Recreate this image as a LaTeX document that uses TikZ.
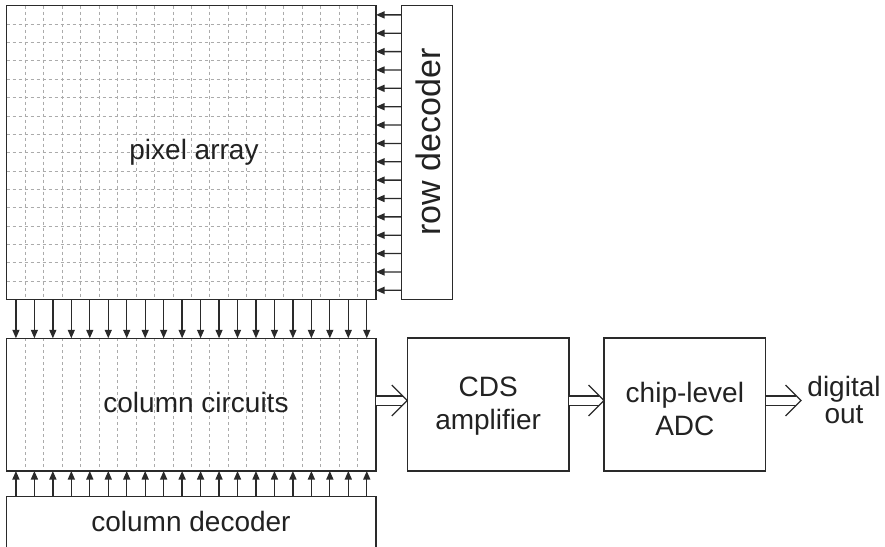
\documentclass[tikz,border=0pt]{standalone}
\usepackage{fontspec}
\setmainfont{Liberation Sans}
\usetikzlibrary{arrows.meta,calc}
\definecolor{edge}{HTML}{2A2A2A}
\definecolor{ink}{HTML}{222222}
\definecolor{gridc}{HTML}{ABABAB}
\begin{document}
\begin{tikzpicture}[x=1pt,y=-1pt,
  box/.style={draw=edge,line width=1.5pt,inner sep=0pt,outer sep=0pt,rectangle},
  area/.style={inner sep=0pt,outer sep=0pt,rectangle},
  lbl/.style={text=ink,font=\fontsize{28}{33}\selectfont,align=center,inner sep=0pt},
  gridline/.style={draw=gridc,line width=0.75pt,dash pattern=on 3pt off 3pt},
  sig/.style={draw=edge,line width=1.3pt,-{Triangle[length=8.5pt,width=7pt]}},
  dblline/.style={draw=edge,line width=1.2pt,double=white,double distance=8pt,shorten >=4.8pt},
  chev/.style={draw=edge,line width=1.2pt,line join=miter}]
\useasboundingbox (0,0) rectangle (885,546);
\def\cw{18.465}
\def\ch{18.3625}
% areas (borders drawn after the grid)
\node[area,minimum width=369.3pt,minimum height=293.8pt] (pa) at (191.35,152.6) {};
\node[area,minimum width=369.3pt,minimum height=132.7pt] (cc) at (191.35,404.65) {};
% boxes
\node[box,minimum width=50.6pt,minimum height=293.6pt] (rd) at (427,152.5) {};
\node[box,minimum width=369.3pt,minimum height=80pt] (cd) at (191.35,536.7) {};
\node[box,minimum width=161.7pt,minimum height=133pt] (cds) at (488.15,404.5) {};
\node[box,minimum width=161.7pt,minimum height=133pt] (adc) at (684.85,404.5) {};
% grid in pixel array and column circuits
\foreach \i in {1,...,19}{
  \draw[gridline] ($(pa.north west)+(\i*\cw,0)$) -- ($(pa.south west)+(\i*\cw,0)$);
  \draw[gridline] ($(cc.north west)+(\i*\cw,0)$) -- ($(cc.south west)+(\i*\cw,0)$);
}
\foreach \j in {1,...,15}{
  \draw[gridline] ($(pa.north west)+(0,\j*\ch)$) -- ($(pa.north east)+(0,\j*\ch)$);
}
\draw[box] (pa.north west) rectangle (pa.south east);
\draw[box] (cc.north west) rectangle (cc.south east);
% labels
\node[lbl] (pal) at (194,152) {pixel array};
\node[lbl,rotate=90,font=\fontsize{34}{40}\selectfont] (rdl) at (428,142) {row decoder};
\node[lbl] (ccl) at (196,402) {column circuits};
\node[lbl] (cdl) at (191,521) {column decoder};
\node[lbl] (cdsl) at ($(cds)+(0,2)$) {CDS\\amplifier};
\node[lbl] (adcl) at ($(adc)+(0,4)$) {chip-level\\ADC};
\node[lbl,font=\fontsize{28}{27}\selectfont] (outl) at (844,400) {digital\\out};
% row arrows
\foreach \j in {1,...,16}{
  \draw[sig] ($(rd.north west)+(0,\j*\ch-0.5*\ch)$) -- ($(pa.north east)+(0,\j*\ch-0.5*\ch)$);
}
% column arrows
\foreach \i in {1,...,20}{
  \draw[sig] ($(pa.south west)+(\i*\cw-0.5*\cw,0)$) -- ($(cc.north west)+(\i*\cw-0.5*\cw,0)$);
  \draw[sig] ($(cd.north west)+(\i*\cw-0.5*\cw,0)$) -- ($(cc.south west)+(\i*\cw-0.5*\cw,0)$);
}
% double arrows
\coordinate (t1) at (cds.west |- 0,400.5);
\coordinate (t2) at (adc.west |- 0,400.5);
\coordinate (t3) at (801,400.5);
\draw[dblline] (cc.east |- t1) -- (t1);
\draw[chev] ($(t1)+(-15.5,-15.5)$) -- (t1) -- ($(t1)+(-15.5,15.5)$);
\draw[dblline] (cds.east |- t2) -- (t2);
\draw[chev] ($(t2)+(-15.5,-15.5)$) -- (t2) -- ($(t2)+(-15.5,15.5)$);
\draw[dblline] (adc.east |- t3) -- (t3);
\draw[chev] ($(t3)+(-15.5,-15.5)$) -- (t3) -- ($(t3)+(-15.5,15.5)$);
\end{tikzpicture}
\end{document}
